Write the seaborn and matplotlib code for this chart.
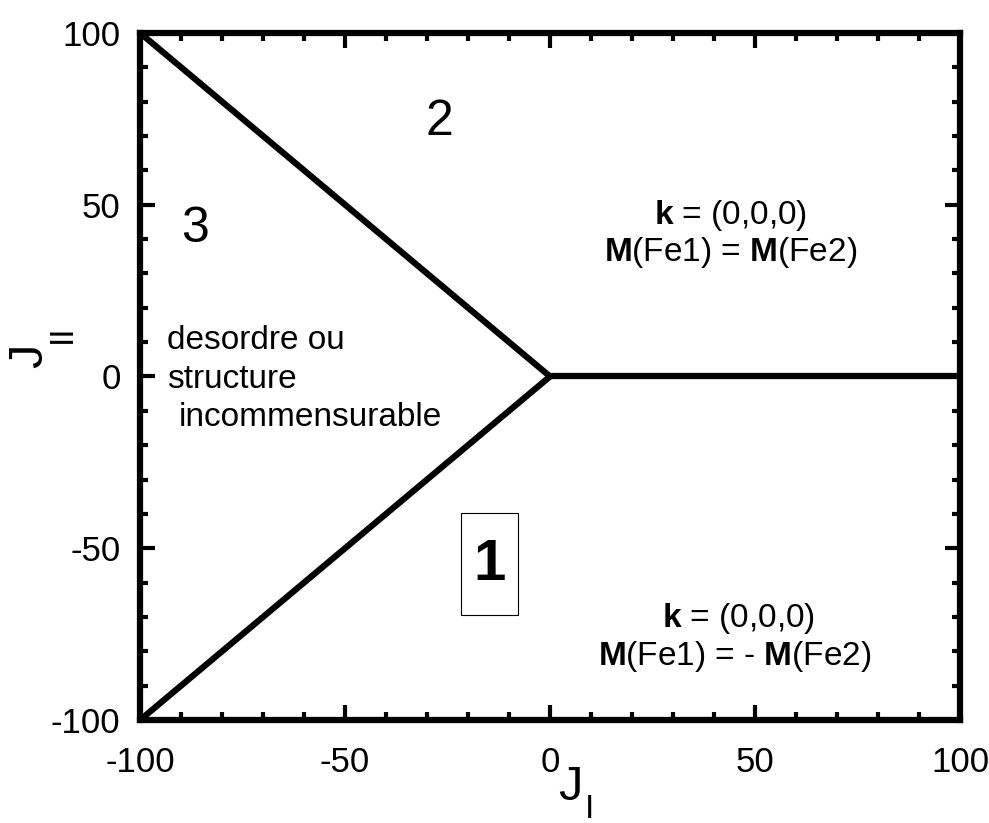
import numpy as np
import pandas as pd
import matplotlib
matplotlib.use("Agg")
import matplotlib.pyplot as plt
import seaborn as sns
from matplotlib.patches import Rectangle
from matplotlib.ticker import MultipleLocator

# phase boundaries (J_I, J_II)
seg_names = ["upper", "upper", "lower", "lower", "right", "right"]
j1_vals = [-100, 0, -100, 0, 0, 100]
j2_vals = [100, 0, -100, 0, 0, 0]

tick_vals = [-100, -50, 0, 50, 100]
tick_labels = ["-100", "-50", "0", "50", "100"]

sns.set_style("ticks")
plt.rcParams["font.family"] = ["Liberation Sans", "DejaVu Sans"]
plt.rcParams["text.color"] = "black"
plt.rcParams["mathtext.fontset"] = "custom"
plt.rcParams["mathtext.rm"] = "Liberation Sans"
plt.rcParams["mathtext.bf"] = "Liberation Sans:bold"

df = pd.DataFrame({"seg": seg_names, "J1": j1_vals, "J2": j2_vals})

fig = plt.figure(figsize=(9.89, 8.23), dpi=100)
ax = fig.add_axes([0.1416, 0.1251, 0.8291, 0.8349])

sns.lineplot(data=df, x="J1", y="J2", units="seg", estimator=None, sort=False,
             color="black", lw=4.5, ax=ax, legend=False)

ax.set_xlim(-100, 100)
ax.set_ylim(-100, 100)
ax.set_xticks(tick_vals, tick_labels)
ax.set_yticks(tick_vals, tick_labels)
ax.xaxis.set_minor_locator(MultipleLocator(10))
ax.yaxis.set_minor_locator(MultipleLocator(10))
ax.tick_params(which="both", direction="in", top=True, right=True, labelsize=25,
               width=3, color="black", labelcolor="black")
ax.tick_params(which="major", length=11)
ax.tick_params(which="minor", length=6)
ax.tick_params(axis="y", which="major", pad=14)
ax.tick_params(axis="x", which="major", pad=19)
for sp in ax.spines.values():
    sp.set_linewidth(4.5)
    sp.set_color("black")
ax.set_xlabel("")
ax.set_ylabel("")

# axis labels with subscripts
fig.text(570 / 989, 1 - 787 / 823, "J", fontsize=35, ha="center", va="center")
fig.text(590 / 989, 1 - 809 / 823, "I", fontsize=24, ha="center", va="center")
fig.text(30 / 989, 1 - 356 / 823, "J", fontsize=35, ha="center", va="center", rotation=90)
fig.text(62 / 989, 1 - 334 / 823, "II", fontsize=24, ha="center", va="center", rotation=90)

# region labels
ax.text(-27, 74, "2", fontsize=36, ha="center", va="center")
ax.text(-86.5, 43, "3", fontsize=36, ha="center", va="center")
ax.text(-93.5, 10.5, "desordre ou", fontsize=24, ha="left", va="center")
ax.text(-93.5, -1, "structure", fontsize=24, ha="left", va="center")
ax.text(-90.5, -12, "incommensurable", fontsize=24, ha="left", va="center")

ax.text(-14.7, -55, "1", fontsize=42, fontweight="bold", ha="center", va="center")
ax.add_patch(Rectangle((-21.7, -69.4), 13.9, 29.7, fill=False, lw=0.8,
                       edgecolor="black", transform=ax.transData))

ax.text(44, 47, r"$\mathbf{k}$ = (0,0,0)", fontsize=24, ha="center", va="center")
ax.text(44, 36, r"$\mathbf{M}$(Fe1) = $\mathbf{M}$(Fe2)", fontsize=24,
        ha="center", va="center")
ax.text(46, -70.5, r"$\mathbf{k}$ = (0,0,0)", fontsize=24, ha="center", va="center")
ax.text(45, -81.5, r"$\mathbf{M}$(Fe1) = - $\mathbf{M}$(Fe2)", fontsize=24,
        ha="center", va="center")

fig.savefig("out.png", dpi=100)
